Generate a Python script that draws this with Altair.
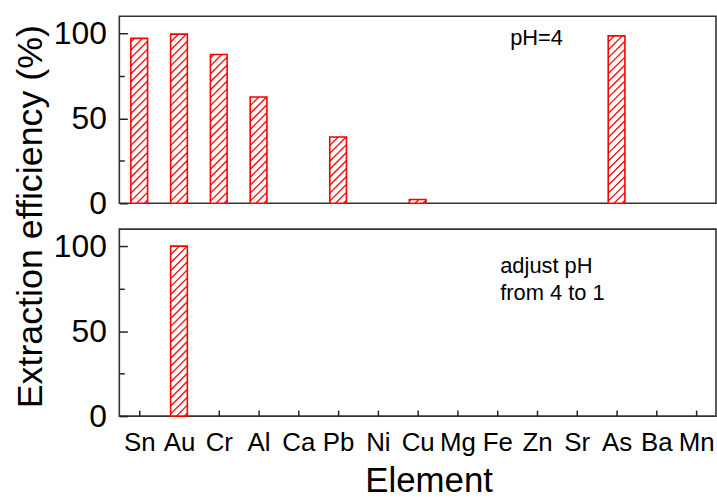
import json
import altair as alt
import pandas as pd

# ---- data ----
elements = ["Sn", "Au", "Cr", "Al", "Ca", "Pb", "Ni", "Cu", "Mg", "Fe", "Zn", "Sr", "As", "Ba", "Mn"]
eff_ph4 = [97.0, 99.5, 87.5, 62.5, 0, 39.0, 0, 2.2, 0, 0, 0, 0, 98.5, 0, 0]
eff_ph1 = [0, 100.0, 0, 0, 0, 0, 0, 0, 0, 0, 0, 0, 0, 0, 0]
y_major = [0, 50, 100]
y_minor = [25, 75]
note_top = "pH=4"
note_bottom = ["adjust pH", "from 4 to 1"]
y_title = "Extraction efficiency (%)"
x_title = "Element"

# ---- styling / layout ----
FONT = "Liberation Sans"
PANEL_W = 600
PANEL_H = 188
Y_MAX = 110
BAR_W = 0.42      # bar width in category units
HATCH_GAP = 8.0   # px between hatch lines (vertical)
RED = "#ff0000"

xscale = alt.Scale(domain=[-0.5, len(elements) - 0.5], nice=False, zero=False)
yscale = alt.Scale(domain=[0, Y_MAX], nice=False, zero=True)


def hatch_rows(values):
    px_x = PANEL_W / len(elements)
    px_y = PANEL_H / Y_MAX
    w = BAR_W * px_x
    rows = []
    for i, v in enumerate(values):
        h = v * px_y
        if h <= 0:
            continue
        xl = i - BAR_W / 2
        c = -w + 3.0
        while c < h:
            xs = max(0.0, -c)
            xe = min(w, h - c)
            if xe > xs:
                rows.append({"x": xl + xs / px_x, "y": (c + xs) / px_y,
                             "x2": xl + xe / px_x, "y2": (c + xe) / px_y})
            c += HATCH_GAP
    return pd.DataFrame(rows)


def panel(values, show_x, note, note_x, note_y, show_ytitle):
    df = pd.DataFrame({"idx": list(range(len(elements))), "el": elements, "v": values})

    if show_x:
        xaxis = alt.Axis(values=list(range(len(elements))),
                         labelExpr=f"{json.dumps(elements)}[datum.value]",
                         orient="bottom", domain=False, grid=False,
                         offset=-6, tickSize=6, labelPadding=14, labelFlush=False,
                         labelFontSize=26, labelColor="black",
                         title=x_title, titleFontSize=35, titleFontWeight="normal",
                         titleColor="black", titlePadding=8, titleX=311)
    else:
        xaxis = None

    ykw = dict(values=y_major, orient="left", domain=False, grid=False,
               offset=-8, tickSize=8, labelPadding=13, labelFontSize=32,
               labelColor="black")
    if show_ytitle:
        yaxis = alt.Axis(title=y_title, titleFontSize=36, titleFontWeight="normal",
                         titleColor="black", titleY=201, titlePadding=4, **ykw)
    else:
        yaxis = alt.Axis(title=None, **ykw)

    bars = alt.Chart(df).transform_filter("datum.v > 0").transform_calculate(
        xl=f"datum.idx - {BAR_W / 2}", xr=f"datum.idx + {BAR_W / 2}"
    ).mark_bar(fill="white", stroke=RED, strokeWidth=1.6).encode(
        x=alt.X("xl:Q", scale=xscale, axis=xaxis),
        x2="xr:Q",
        y=alt.Y("v:Q", scale=yscale, axis=yaxis),
        y2=alt.datum(0),
    )

    hatch = alt.Chart(hatch_rows(values)).mark_rule(color=RED, strokeWidth=1.3).encode(
        x=alt.X("x:Q", scale=xscale, axis=xaxis),
        x2="x2:Q",
        y=alt.Y("y:Q", scale=yscale, axis=yaxis),
        y2="y2:Q",
    )

    note_df = pd.DataFrame({"t": [note]})
    text = alt.Chart(note_df).mark_text(
        align="left", baseline="alphabetic", fontSize=22, font=FONT,
        color="black", lineHeight=27
    ).encode(text="t", x=alt.value(note_x), y=alt.value(note_y))

    main = alt.layer(bars, hatch, text)

    minor = alt.Chart(pd.DataFrame({"t": y_minor})).mark_point(opacity=0).encode(
        y=alt.Y("t:Q", scale=yscale,
                axis=alt.Axis(values=y_minor, orient="left", domain=False, grid=False,
                              offset=-5, tickSize=5, labels=False, title=None))
    )

    return alt.layer(main, minor).resolve_axis(y="independent").properties(
        width=PANEL_W, height=PANEL_H)


top = panel(eff_ph4, False, note_top, 393, 29, True)
bottom = panel(eff_ph1, True, note_bottom, 383, 44, False)

chart = alt.vconcat(top, bottom, spacing=26, bounds="flush").properties(
    padding={"left": 11, "top": 14, "right": 0, "bottom": 5}
).configure(font=FONT).configure_view(
    stroke="#333333", strokeWidth=1.6
).configure_axis(
    labelFont=FONT, titleFont=FONT, tickColor="#222222", tickWidth=1.5
)

chart.save("out.html", embed_options={"renderer": "svg", "actions": False})
